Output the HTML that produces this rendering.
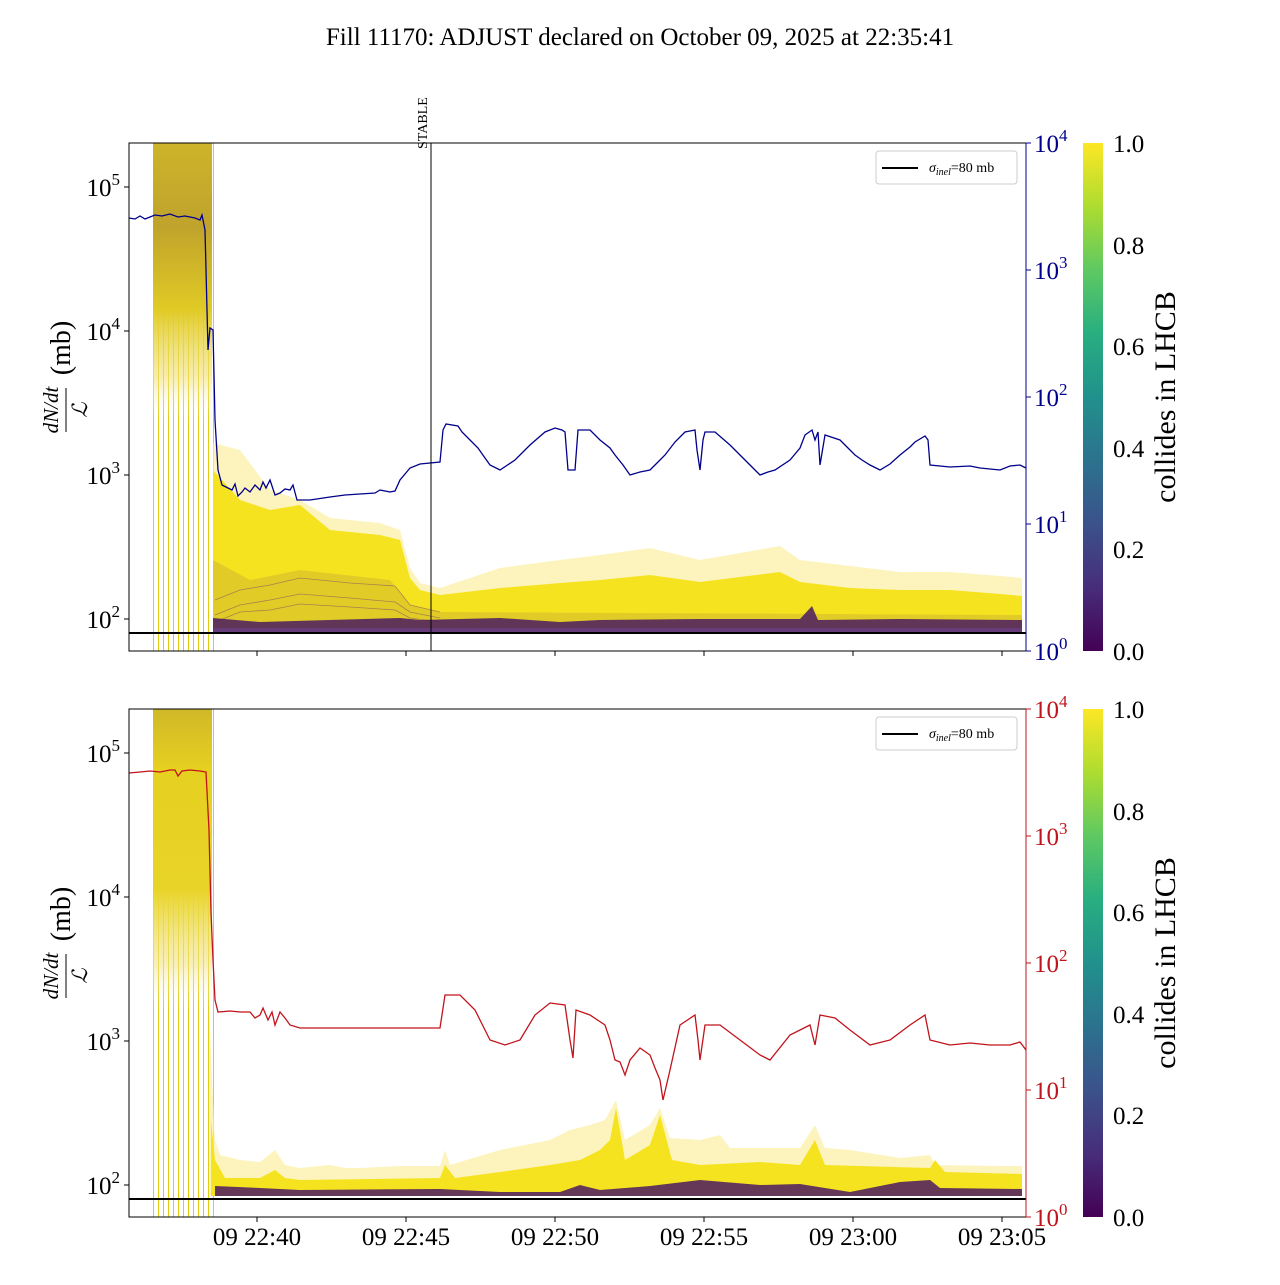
<!DOCTYPE html>
<html><head><meta charset="utf-8"><style>
body{margin:0;background:#fff;}
svg text{font-family:"Liberation Serif",serif;}
</style></head><body>
<svg width="1280" height="1280" xmlns="http://www.w3.org/2000/svg">
<defs>
<linearGradient id="vir" x1="0" y1="1" x2="0" y2="0">
<stop offset="0" stop-color="#440154"/><stop offset="0.125" stop-color="#472d7b"/><stop offset="0.25" stop-color="#3b528b"/><stop offset="0.375" stop-color="#2c728e"/><stop offset="0.5" stop-color="#21918c"/><stop offset="0.625" stop-color="#28ae80"/><stop offset="0.75" stop-color="#5ec962"/><stop offset="0.875" stop-color="#addc30"/><stop offset="1" stop-color="#fde725"/>
</linearGradient>
<linearGradient id="e1" x1="0" y1="143" x2="0" y2="420" gradientUnits="userSpaceOnUse">
<stop offset="0" stop-color="#cdb42a"/><stop offset="0.3" stop-color="#c0a32c"/><stop offset="0.6" stop-color="#e0ca25"/><stop offset="0.85" stop-color="#f2e27a" stop-opacity="0.6"/><stop offset="1" stop-color="#fff" stop-opacity="0"/>
</linearGradient>
<linearGradient id="e2" x1="0" y1="709" x2="0" y2="1010" gradientUnits="userSpaceOnUse">
<stop offset="0" stop-color="#d0b828"/><stop offset="0.2" stop-color="#e6d020"/><stop offset="0.6" stop-color="#e8d428"/><stop offset="0.85" stop-color="#f3e58a" stop-opacity="0.6"/><stop offset="1" stop-color="#fff" stop-opacity="0"/>
</linearGradient>
<clipPath id="c1"><rect x="129" y="143" width="897" height="508"/></clipPath>
<clipPath id="c2"><rect x="129" y="709" width="897" height="508"/></clipPath>
</defs>
<text x="640" y="45" font-size="25" text-anchor="middle">Fill 11170: ADJUST declared on October 09, 2025 at 22:35:41</text>

<!-- TOP -->
<g clip-path="url(#c1)">
<g stroke="#e2cc10" stroke-width="1">
<line x1="153.5" y1="143" x2="153.5" y2="651"/><line x1="158.5" y1="143" x2="158.5" y2="651"/><line x1="163.5" y1="143" x2="163.5" y2="651"/><line x1="168.5" y1="143" x2="168.5" y2="651"/><line x1="173.5" y1="143" x2="173.5" y2="651"/><line x1="178.5" y1="143" x2="178.5" y2="651"/><line x1="183.5" y1="143" x2="183.5" y2="651"/><line x1="188.5" y1="143" x2="188.5" y2="651"/><line x1="193.5" y1="143" x2="193.5" y2="651"/><line x1="198.5" y1="143" x2="198.5" y2="651"/><line x1="203.5" y1="143" x2="203.5" y2="651"/><line x1="208.5" y1="143" x2="208.5" y2="651"/><line x1="213.5" y1="143" x2="213.5" y2="651"/>
</g>
<rect x="153" y="143" width="59" height="290" fill="url(#e1)"/>
<polygon points="213,443 240,450 270,490 300,500 330,518 380,523 400,530 410,568 420,583 440,588 500,568 560,560 600,555 650,548 700,560 780,546 800,560 850,566 900,572 950,572 1000,576 1022,578 1022,628 213,628" fill="#fbf0a0" opacity="0.7"/>
<polygon points="213,470 240,500 270,510 300,505 330,530 380,535 400,540 410,578 420,590 440,595 500,588 560,583 600,580 650,575 700,582 780,572 800,582 850,588 900,590 950,590 1000,594 1022,596 1022,628 213,628" fill="#f6e320"/>
<polygon points="213,560 250,580 300,570 390,580 410,605 440,612 1022,615 1022,628 213,628" fill="#c8b030" opacity="0.45"/>
<g fill="none" stroke="#6a3a70" stroke-width="0.8" opacity="0.5">
<polyline points="215,600 240,590 270,585 300,578 350,583 395,586 410,605 440,612"/>
<polyline points="215,615 240,605 270,600 300,594 350,598 395,602 410,612 440,618"/>
<polyline points="215,622 240,612 270,610 300,604 350,607 395,610 410,618 440,622"/>
</g>
<polygon points="213,618 260,622 400,618 420,620 500,618 560,622 600,620 700,619 800,619 812,606 818,620 900,619 1022,620 1022,632 213,632" fill="#4a1a60" opacity="0.85"/>
<polyline fill="none" stroke="#00008b" stroke-width="1.3" points="129,218 135,219 140,216 145,219 150,217 155,215 162,216 170,214 178,217 185,216 195,218 200,220 202,215 205,230 208,350 210,328 213,330 215,420 218,470 222,485 228,488 232,490 235,484 238,496 242,492 245,488 250,492 255,485 260,490 263,482 266,488 270,480 275,495 280,493 285,489 290,490 293,485 297,500 310,500 330,497 345,495 360,494 375,493 380,490 390,492 395,491 400,480 405,474 410,468 420,464 440,462 443,430 446,424 458,426 462,432 470,440 478,448 485,458 490,465 500,470 515,460 530,445 545,432 555,428 562,430 565,432 568,470 575,470 578,430 590,430 600,440 610,448 615,455 623,465 630,475 640,472 650,470 658,462 665,455 675,442 685,432 695,430 697,450 700,470 703,440 705,432 715,432 730,445 745,460 755,470 760,475 768,472 775,470 790,460 800,448 805,435 812,430 815,440 818,432 820,465 825,435 840,440 848,448 855,455 862,460 870,465 880,470 890,464 900,455 910,447 915,442 925,436 928,440 930,465 950,467 970,466 980,468 1000,470 1010,466 1020,465 1026,468"/>
</g>
<line x1="129" y1="633" x2="1026" y2="633" stroke="#000" stroke-width="2"/>
<line x1="431" y1="143" x2="431" y2="651" stroke="#000" stroke-width="1"/>
<text transform="translate(427,149) rotate(-90)" font-size="14">STABLE</text>
<rect x="129" y="143" width="897" height="508" fill="none" stroke="#000" stroke-width="1"/>
<g stroke="#000"><line x1="257" y1="651" x2="257" y2="656"/><line x1="406" y1="651" x2="406" y2="656"/><line x1="555" y1="651" x2="555" y2="656"/><line x1="704" y1="651" x2="704" y2="656"/><line x1="853" y1="651" x2="853" y2="656"/><line x1="1002" y1="651" x2="1002" y2="656"/>
<line x1="124" y1="187" x2="129" y2="187"/><line x1="124" y1="331" x2="129" y2="331"/><line x1="124" y1="475" x2="129" y2="475"/><line x1="124" y1="619" x2="129" y2="619"/></g>
<g font-size="25" text-anchor="end"><text x="120" y="196">10<tspan font-size="17" dy="-11">5</tspan></text><text x="120" y="340">10<tspan font-size="17" dy="-11">4</tspan></text><text x="120" y="484">10<tspan font-size="17" dy="-11">3</tspan></text><text x="120" y="628">10<tspan font-size="17" dy="-11">2</tspan></text></g>
<g stroke="#00008b"><line x1="1026" y1="143" x2="1026" y2="651"/><line x1="1026" y1="143" x2="1031" y2="143"/><line x1="1026" y1="270" x2="1031" y2="270"/><line x1="1026" y1="397" x2="1031" y2="397"/><line x1="1026" y1="524" x2="1031" y2="524"/><line x1="1026" y1="651" x2="1031" y2="651"/></g>
<g font-size="25" fill="#00008b"><text x="1034" y="152">10<tspan font-size="17" dy="-11">4</tspan></text><text x="1034" y="279">10<tspan font-size="17" dy="-11">3</tspan></text><text x="1034" y="406">10<tspan font-size="17" dy="-11">2</tspan></text><text x="1034" y="533">10<tspan font-size="17" dy="-11">1</tspan></text><text x="1034" y="660">10<tspan font-size="17" dy="-11">0</tspan></text></g>
<rect x="876" y="151" width="141" height="33" rx="3" fill="#fff" stroke="#ccc"/>
<line x1="882" y1="168" x2="918" y2="168" stroke="#000" stroke-width="2"/>
<text x="929" y="172" font-size="14"><tspan font-style="italic">σ<tspan font-size="10" dy="3">inel</tspan></tspan><tspan dy="-3">=80 mb</tspan></text>
<g transform="translate(60,410) rotate(-90)" text-anchor="middle" font-size="28"><text x="0" y="-2" font-size="21" font-style="italic">dN/dt</text><line x1="-22" y1="6" x2="22" y2="6" stroke="#000"/><text x="0" y="27" font-size="21" font-style="italic">ℒ</text><text x="62" y="10">(mb)</text></g>
<rect x="1083" y="143" width="20" height="508" fill="url(#vir)"/>
<g font-size="25"><text x="1113" y="152">1.0</text><text x="1113" y="254">0.8</text><text x="1113" y="355">0.6</text><text x="1113" y="457">0.4</text><text x="1113" y="558">0.2</text><text x="1113" y="660">0.0</text></g>
<text transform="translate(1175,397) rotate(-90)" font-size="30" text-anchor="middle">collides in LHCB</text>

<!-- BOTTOM -->
<g clip-path="url(#c2)">
<g stroke="#e2cc10" stroke-width="1">
<line x1="153.5" y1="709" x2="153.5" y2="1217"/><line x1="158.5" y1="709" x2="158.5" y2="1217"/><line x1="163.5" y1="709" x2="163.5" y2="1217"/><line x1="168.5" y1="709" x2="168.5" y2="1217"/><line x1="173.5" y1="709" x2="173.5" y2="1217"/><line x1="178.5" y1="709" x2="178.5" y2="1217"/><line x1="183.5" y1="709" x2="183.5" y2="1217"/><line x1="188.5" y1="709" x2="188.5" y2="1217"/><line x1="193.5" y1="709" x2="193.5" y2="1217"/><line x1="198.5" y1="709" x2="198.5" y2="1217"/><line x1="203.5" y1="709" x2="203.5" y2="1217"/><line x1="208.5" y1="709" x2="208.5" y2="1217"/><line x1="213.5" y1="709" x2="213.5" y2="1217"/>
</g>
<rect x="153" y="709" width="59" height="300" fill="url(#e2)"/>
<polygon points="209,1000 212,1080 215,1140 220,1155 240,1160 260,1162 275,1150 285,1165 300,1168 330,1165 345,1168 360,1168 400,1166 440,1166 445,1150 450,1165 500,1150 550,1140 570,1130 590,1125 605,1120 616,1100 625,1140 650,1125 660,1108 670,1138 700,1140 720,1135 730,1148 800,1148 815,1125 825,1148 850,1150 900,1158 930,1155 935,1165 1000,1166 1022,1166 1022,1195 209,1195" fill="#fbf0a0" opacity="0.7"/>
<polygon points="211,1120 215,1160 225,1178 260,1178 275,1170 285,1178 300,1180 440,1178 445,1165 455,1178 500,1172 550,1165 580,1160 600,1150 610,1140 616,1108 625,1160 650,1145 660,1115 672,1160 700,1165 760,1162 800,1165 815,1140 825,1165 930,1168 935,1160 945,1172 1022,1174 1022,1196 211,1196" fill="#f6e320"/>
<polygon points="215,1186 260,1188 300,1190 440,1189 500,1192 560,1192 580,1185 600,1190 650,1186 700,1180 760,1185 800,1184 850,1192 900,1182 930,1180 940,1188 1022,1189 1022,1196 215,1196" fill="#4a1a60" opacity="0.85"/>
<polyline fill="none" stroke="#c0141c" stroke-width="1.3" points="129,773 140,772 150,771 160,772 170,770 175,770 178,776 182,771 190,770 200,771 206,772 209,830 211,912 213,960 215,1000 218,1012 230,1011 240,1012 250,1012 255,1018 260,1015 263,1008 268,1020 272,1012 275,1025 280,1012 285,1018 290,1025 300,1028 310,1028 350,1028 400,1028 440,1028 445,995 460,995 475,1010 490,1040 505,1045 520,1040 535,1015 550,1003 565,1005 570,1040 573,1058 576,1010 590,1015 605,1025 610,1040 615,1060 620,1062 625,1075 630,1060 640,1048 650,1055 655,1068 660,1080 663,1100 670,1070 680,1025 695,1015 698,1040 700,1060 705,1025 720,1025 740,1040 760,1055 770,1060 790,1035 810,1025 815,1045 820,1015 835,1018 850,1030 870,1045 890,1040 910,1025 925,1015 930,1040 950,1045 970,1043 990,1045 1010,1045 1020,1042 1026,1050"/>
</g>
<line x1="129" y1="1199" x2="1026" y2="1199" stroke="#000" stroke-width="2"/>
<rect x="129" y="709" width="897" height="508" fill="none" stroke="#000" stroke-width="1"/>
<g stroke="#000"><line x1="257" y1="1217" x2="257" y2="1222"/><line x1="406" y1="1217" x2="406" y2="1222"/><line x1="555" y1="1217" x2="555" y2="1222"/><line x1="704" y1="1217" x2="704" y2="1222"/><line x1="853" y1="1217" x2="853" y2="1222"/><line x1="1002" y1="1217" x2="1002" y2="1222"/>
<line x1="124" y1="753" x2="129" y2="753"/><line x1="124" y1="897" x2="129" y2="897"/><line x1="124" y1="1041" x2="129" y2="1041"/><line x1="124" y1="1185" x2="129" y2="1185"/></g>
<g font-size="25" text-anchor="middle"><text x="257" y="1245">09 22:40</text><text x="406" y="1245">09 22:45</text><text x="555" y="1245">09 22:50</text><text x="704" y="1245">09 22:55</text><text x="853" y="1245">09 23:00</text><text x="1002" y="1245">09 23:05</text></g>
<g font-size="25" text-anchor="end"><text x="120" y="762">10<tspan font-size="17" dy="-11">5</tspan></text><text x="120" y="906">10<tspan font-size="17" dy="-11">4</tspan></text><text x="120" y="1050">10<tspan font-size="17" dy="-11">3</tspan></text><text x="120" y="1194">10<tspan font-size="17" dy="-11">2</tspan></text></g>
<g stroke="#c0141c"><line x1="1026" y1="709" x2="1026" y2="1217"/><line x1="1026" y1="709" x2="1031" y2="709"/><line x1="1026" y1="836" x2="1031" y2="836"/><line x1="1026" y1="963" x2="1031" y2="963"/><line x1="1026" y1="1090" x2="1031" y2="1090"/><line x1="1026" y1="1217" x2="1031" y2="1217"/></g>
<g font-size="25" fill="#c0141c"><text x="1034" y="718">10<tspan font-size="17" dy="-11">4</tspan></text><text x="1034" y="845">10<tspan font-size="17" dy="-11">3</tspan></text><text x="1034" y="972">10<tspan font-size="17" dy="-11">2</tspan></text><text x="1034" y="1099">10<tspan font-size="17" dy="-11">1</tspan></text><text x="1034" y="1226">10<tspan font-size="17" dy="-11">0</tspan></text></g>
<rect x="876" y="717" width="141" height="33" rx="3" fill="#fff" stroke="#ccc"/>
<line x1="882" y1="734" x2="918" y2="734" stroke="#000" stroke-width="2"/>
<text x="929" y="738" font-size="14"><tspan font-style="italic">σ<tspan font-size="10" dy="3">inel</tspan></tspan><tspan dy="-3">=80 mb</tspan></text>
<g transform="translate(60,976) rotate(-90)" text-anchor="middle" font-size="28"><text x="0" y="-2" font-size="21" font-style="italic">dN/dt</text><line x1="-22" y1="6" x2="22" y2="6" stroke="#000"/><text x="0" y="27" font-size="21" font-style="italic">ℒ</text><text x="62" y="10">(mb)</text></g>
<rect x="1083" y="709" width="20" height="508" fill="url(#vir)"/>
<g font-size="25"><text x="1113" y="718">1.0</text><text x="1113" y="820">0.8</text><text x="1113" y="921">0.6</text><text x="1113" y="1023">0.4</text><text x="1113" y="1124">0.2</text><text x="1113" y="1226">0.0</text></g>
<text transform="translate(1175,963) rotate(-90)" font-size="30" text-anchor="middle">collides in LHCB</text>
</svg>
</body></html>
